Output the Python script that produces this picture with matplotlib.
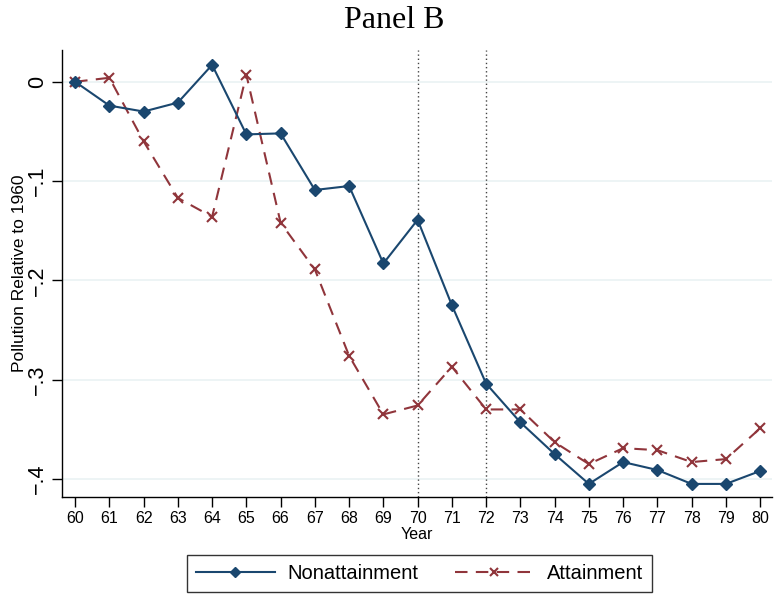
import matplotlib
matplotlib.use("Agg")
import matplotlib.pyplot as plt

plt.rcParams["font.family"] = ["Liberation Sans", "DejaVu Sans"]

years = list(range(60, 81))
nonattain = [0.000, -0.024, -0.030, -0.021, 0.017, -0.053, -0.052, -0.109, -0.105, -0.183,
             -0.139, -0.225, -0.304, -0.343, -0.375, -0.405, -0.383, -0.391, -0.405, -0.405, -0.392]
attain = [0.000, 0.004, -0.060, -0.117, -0.136, 0.007, -0.142, -0.189, -0.276, -0.335,
          -0.326, -0.287, -0.330, -0.330, -0.363, -0.385, -0.369, -0.371, -0.383, -0.380, -0.349]
yticks = [0, -0.1, -0.2, -0.3, -0.4]
ytick_labels = ["0", "\u2212.1", "\u2212.2", "\u2212.3", "\u2212.4"]
vlines = [70, 72]

navy = "#1a476f"
maroon = "#90353b"

fig = plt.figure(figsize=(7.76, 5.95), dpi=100)
ax = fig.add_axes([0.08, 0.165, 0.915, 0.751])

for y in yticks:
    ax.axhline(y, color="#eaf2f3", lw=1.2, zorder=0)
for v in vlines:
    ax.axvline(v, color="#444444", lw=1.0, ls=(0, (1, 2)), zorder=1)

ax.plot(years, nonattain, color=navy, lw=1.5, marker="D", ms=6.5, label="Nonattainment", zorder=3)
ax.plot(years, attain, color=maroon, lw=1.5, ls=(0, (6, 4)), marker="x", ms=7, mew=1.5,
        label="Attainment", zorder=2)

ax.set_xlim(59.62, 80.35)
ax.set_ylim(-0.418, 0.032)
ax.set_xticks(years)
ax.set_xticklabels([str(y) for y in years], fontsize=11.5)
ax.set_yticks(yticks)
ax.set_yticklabels(ytick_labels, fontsize=15.5, rotation=90, va="center")
ax.tick_params(axis="both", direction="out", length=7, width=1, color="black")
ax.tick_params(axis="x", pad=3)
ax.tick_params(axis="y", pad=3)
for s in ["top", "right"]:
    ax.spines[s].set_visible(False)
for s in ["left", "bottom"]:
    ax.spines[s].set_linewidth(1.0)

ax.set_xlabel("Year", fontsize=11.5, labelpad=1)
ax.set_ylabel("Pollution Relative to 1960", fontsize=12.5, labelpad=0)
fig.suptitle("Panel B", fontsize=23, family=["Liberation Serif", "DejaVu Serif"], x=0.508, y=0.99)

leg = fig.legend(loc="center", ncol=2, fontsize=14.5, frameon=True, fancybox=False,
                 edgecolor="black", handlelength=3.9, handletextpad=0.65,
                 columnspacing=1.8, borderpad=0.45, markerscale=0.75)
leg.set_bbox_to_anchor((0.5406, 0.0355), transform=fig.transFigure)
leg.get_frame().set_linewidth(1.0)

fig.savefig("out.png", dpi=100)
